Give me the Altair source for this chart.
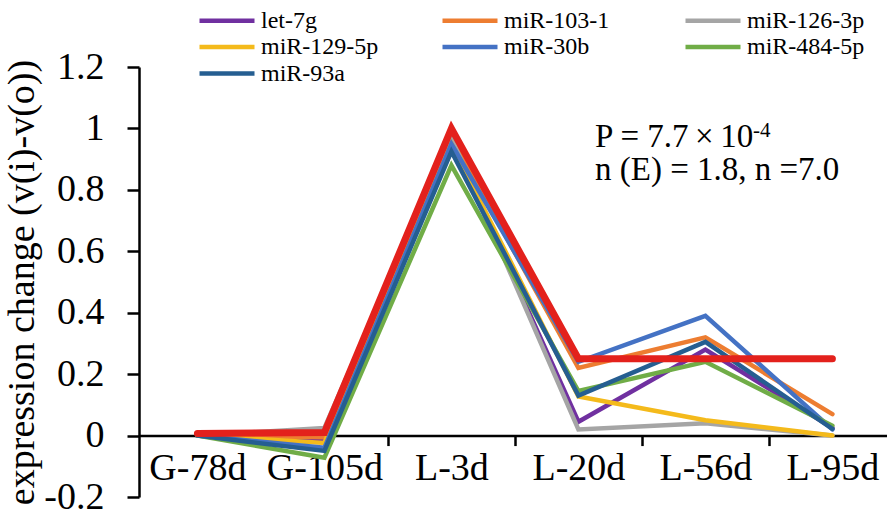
import altair as alt
import pandas as pd

categories = ["G-78d", "G-105d", "L-3d", "L-20d", "L-56d", "L-95d"]
series_names = ["let-7g", "miR-103-1", "miR-126-3p", "miR-129-5p", "miR-30b", "miR-484-5p", "miR-93a"]
series_colors = ["#7030A0", "#ED7D31", "#A5A5A5", "#F4BA1B", "#4472C4", "#70AD47", "#255E91"]
let_7g = [0.0, -0.013, 0.96, 0.045, 0.28, 0.025]
mir_103_1 = [0.0, -0.005, 0.97, 0.22, 0.32, 0.07]
mir_126_3p = [0.0, 0.025, 0.97, 0.02, 0.04, 0.0]
mir_129_5p = [0.0, -0.024, 0.95, 0.127, 0.05, 0.0]
mir_30b = [0.0, -0.04, 0.95, 0.24, 0.39, 0.02]
mir_484_5p = [0.0, -0.072, 0.88, 0.145, 0.24, 0.032]
mir_93a = [0.0, -0.05, 0.925, 0.13, 0.305, 0.022]
model_curve = [0.007, 0.01, 1.0, 0.25, 0.25, 0.25]
y_ticks = [-0.2, 0, 0.2, 0.4, 0.6, 0.8, 1.0, 1.2]

all_series = [let_7g, mir_103_1, mir_126_3p, mir_129_5p, mir_30b, mir_484_5p, mir_93a]
rows = []
for name, vals in zip(series_names, all_series):
    for i, v in enumerate(vals):
        rows.append({"series": name, "idx": i, "cat": categories[i], "value": v})
df = pd.DataFrame(rows)
df_model = pd.DataFrame({"idx": list(range(len(categories))), "cat": categories, "value": model_curve})

FONT = "Liberation Serif"
W, H = 748, 430
x_domain = [-0.46, 5.43]
px_per_unit = W / (x_domain[1] - x_domain[0])
y_domain = [-0.2, 1.2]
x_axis_offset = -H * (0 - y_domain[0]) / (y_domain[1] - y_domain[0])

cat_expr = "[" + ",".join("'" + c + "'" for c in categories) + "][round(datum.value)]"

x_enc = alt.X(
    "idx:Q",
    scale=alt.Scale(domain=x_domain, nice=False, zero=False),
    axis=alt.Axis(
        values=list(range(len(categories))),
        labelExpr=cat_expr,
        title=None,
        grid=False,
        offset=x_axis_offset,
        domainColor="black",
        domainWidth=2.5,
        tickColor="black",
        tickWidth=2.5,
        tickSize=10,
        tickOffset=px_per_unit / 2,
        labelOffset=-px_per_unit / 2,
        tickOpacity={"condition": {"test": "datum.value < 0.5", "value": 0}, "value": 1},
        labelPadding=4,
        labelBaseline="top",
        labelFont=FONT,
        labelFontSize=38,
        labelLimit=0,
        labelOverlap=False,
    ),
)

y_enc = alt.Y(
    "value:Q",
    scale=alt.Scale(domain=y_domain, nice=False, zero=False),
    axis=alt.Axis(
        values=y_ticks,
        labelExpr="toString(round(datum.value*10)/10)",
        title="expression change (v(i)-v(o))",
        titleAngle=270,
        titleX=-117,
        titleY=H / 2,
        titleBaseline="middle",
        titleAlign="center",
        grid=False,
        domainColor="black",
        domainWidth=2.5,
        tickColor="black",
        tickWidth=2.5,
        tickSize=12,
        labelPadding=23,
        labelFont=FONT,
        labelFontSize=38,
        labelLimit=0,
        labelOverlap=False,
    ),
)

lines = alt.Chart(df).mark_line(strokeWidth=4.5, strokeCap="round", strokeJoin="miter").encode(
    x=x_enc,
    y=y_enc,
    color=alt.Color(
        "series:N",
        scale=alt.Scale(domain=series_names, range=series_colors),
        legend=alt.Legend(
            title=None,
            orient="none",
            direction="horizontal",
            legendX=74.5,
            legendY=-60,
            columns=3,
            gridAlign="all",
            columnPadding=55,
            rowPadding=0.5,
            padding=0,
            symbolType="M-2.5,0H2.5",
            symbolSize=484,
            symbolStrokeWidth=4.5,
            labelOffset=20.5,
            labelLimit=0,
            labelFont=FONT,
            labelFontSize=24,
        ),
    ),
)

model = alt.Chart(df_model).mark_line(strokeWidth=7, strokeCap="round", strokeJoin="miter", color="#E3211C").encode(
    x=alt.X("idx:Q"),
    y=alt.Y("value:Q"),
)

ann1 = alt.Chart().mark_text(font=FONT, fontSize=33, align="left", baseline="alphabetic", color="black").encode(
    x=alt.value(456), y=alt.value(80), text=alt.value("P = 7.7\u2009×\u200910")
)
ann_sup = alt.Chart().mark_text(font=FONT, fontSize=21, align="left", baseline="alphabetic", color="black").encode(
    x=alt.value(614), y=alt.value(70), text=alt.value("-4")
)
ann2 = alt.Chart().mark_text(font=FONT, fontSize=33, align="left", baseline="alphabetic", color="black").encode(
    x=alt.value(456), y=alt.value(113), text=alt.value("n (E) = 1.8, n =7.0")
)

chart = alt.layer(lines, model, ann1, ann_sup, ann2).properties(
    width=W,
    height=H,
    autosize=alt.AutoSizeParams(type="none"),
    padding={"left": 139, "top": 67, "right": 0, "bottom": 15},
    background="white",
).configure(
    font=FONT
).configure_view(
    stroke=None
).configure_axis(
    labelColor="black",
    titleFont=FONT,
    titleFontSize=38,
    titleFontWeight="normal",
    titleColor="black",
).configure_legend(
    labelColor="black",
)

chart.save("out.html", embed_options={"renderer": "svg", "actions": False})
